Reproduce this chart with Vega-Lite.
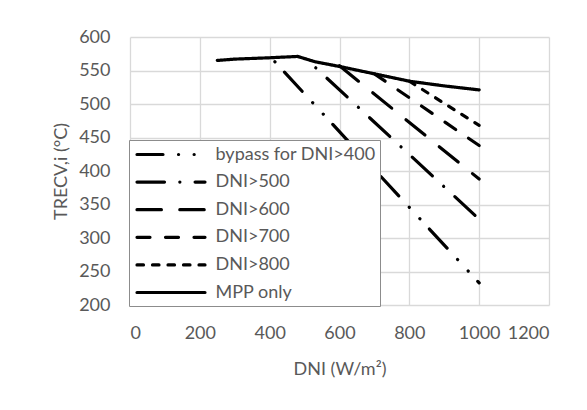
{
  "$schema": "https://vega.github.io/schema/vega-lite/v6.json",
  "width": 419,
  "height": 268,
  "autosize": {"type": "none"},
  "padding": {"left": 130, "top": 37, "right": 38, "bottom": 105},
  "background": "white",
  "config": {"view": {"stroke": null}, "font": "Lato"},
  "data": {
    "values": [
      {"series": "bypass for DNI>400", "dni": 415, "t": 563},
      {"series": "bypass for DNI>400", "dni": 1000, "t": 233},
      {"series": "DNI>500", "dni": 532, "t": 554},
      {"series": "DNI>500", "dni": 1000, "t": 328},
      {"series": "DNI>600", "dni": 600, "t": 557},
      {"series": "DNI>600", "dni": 1000, "t": 388},
      {"series": "DNI>700", "dni": 700, "t": 545},
      {"series": "DNI>700", "dni": 1000, "t": 438},
      {"series": "DNI>800", "dni": 800, "t": 534},
      {"series": "DNI>800", "dni": 1000, "t": 468},
      {"series": "MPP only", "dni": 250, "t": 565},
      {"series": "MPP only", "dni": 300, "t": 567},
      {"series": "MPP only", "dni": 400, "t": 569},
      {"series": "MPP only", "dni": 480, "t": 571},
      {"series": "MPP only", "dni": 530, "t": 563},
      {"series": "MPP only", "dni": 600, "t": 556},
      {"series": "MPP only", "dni": 700, "t": 545},
      {"series": "MPP only", "dni": 800, "t": 534},
      {"series": "MPP only", "dni": 900, "t": 527},
      {"series": "MPP only", "dni": 1000, "t": 521}
    ]
  },
  "encoding": {
    "x": {
      "field": "dni", "type": "quantitative",
      "scale": {"domain": [0, 1200], "nice": false},
      "axis": {
        "title": "DNI (W/m²)",
        "values": [0, 200, 400, 600, 800, 1000, 1200],
        "format": "d",
        "grid": true, "gridColor": "#d9d9d9", "gridWidth": 1.3,
        "domain": false, "ticks": false, "tickSize": 0,
        "labelFont": "Lato", "labelFontSize": 18, "labelColor": "#595959", "labelPadding": 19,
        "titleFont": "Lato", "titleFontSize": 18, "titleFontWeight": "normal", "titleColor": "#595959",
        "titleBaseline": "alphabetic", "titleY": 69
      }
    },
    "y": {
      "field": "t", "type": "quantitative",
      "scale": {"domain": [200, 600], "nice": false, "zero": false},
      "axis": {
        "title": "TRECV,i (°C)",
        "values": [200, 250, 300, 350, 400, 450, 500, 550, 600],
        "format": "d",
        "grid": true, "gridColor": "#d9d9d9", "gridWidth": 1.3,
        "domain": false, "ticks": false, "tickSize": 0,
        "labelFont": "Lato", "labelFontSize": 18, "labelColor": "#595959", "labelPadding": 20,
        "titleFont": "Lato", "titleFontSize": 18, "titleFontWeight": "normal", "titleColor": "#595959",
        "titleBaseline": "alphabetic", "titleX": -64, "titleY": 134, "titleAlign": "center", "titleAngle": -90
      }
    }
  },
  "layer": [
    {
      "mark": {"type": "line", "color": "black", "strokeWidth": 3.2, "strokeCap": "round"},
      "encoding": {
        "strokeDash": {
          "field": "series", "type": "nominal",
          "scale": {
            "domain": ["bypass for DNI>400", "DNI>500", "DNI>600", "DNI>700", "DNI>800", "MPP only"],
            "range": [[0.1, 14, 26, 15.5, 0.1, 15.5], [0.1, 15.2, 27.5, 15.3], [24.4, 18.4], [13, 15.5], [6.5, 9], [1, 0]]
          },
          "legend": null
        }
      }
    },
    {
      "mark": {"type": "line", "color": "black", "strokeWidth": 3.2, "opacity": 0},
      "encoding": {
        "strokeDash": {
          "field": "series", "type": "nominal",
          "scale": {
            "domain": ["bypass for DNI>400", "DNI>500", "DNI>600", "DNI>700", "DNI>800", "MPP only"],
            "range": [[26, 15.5, 0.1, 15.5, 0.1, 15.5], [27.5, 15.3, 0.1, 15.2], [24.4, 18.4], [13, 15.5], [6.5, 9], [1, 0]]
          },
          "legend": {
            "orient": "none", "legendX": -1, "legendY": 103,
            "title": null,
            "symbolType": "M-4,0H4",
            "symbolSize": 289,
            "symbolStrokeWidth": 3.2,
            "symbolStrokeColor": "black",
            "symbolFillColor": "transparent",
            "symbolOffset": 27.5,
            "labelOffset": 34,
            "labelFont": "Lato", "labelFontSize": 18, "labelColor": "#595959", "labelLimit": 300,
            "rowPadding": 7.6,
            "padding": 4,
            "strokeColor": "#8c8c8c", "fillColor": "white",
            "encode": {"symbols": {"update": {"strokeCap": {"value": "round"}, "opacity": {"value": 1}, "strokeOpacity": {"value": 1}}}}
          }
        }
      }
    }
  ],
  "resolve": {"scale": {"strokeDash": "independent"}, "legend": {"strokeDash": "independent"}}
}
